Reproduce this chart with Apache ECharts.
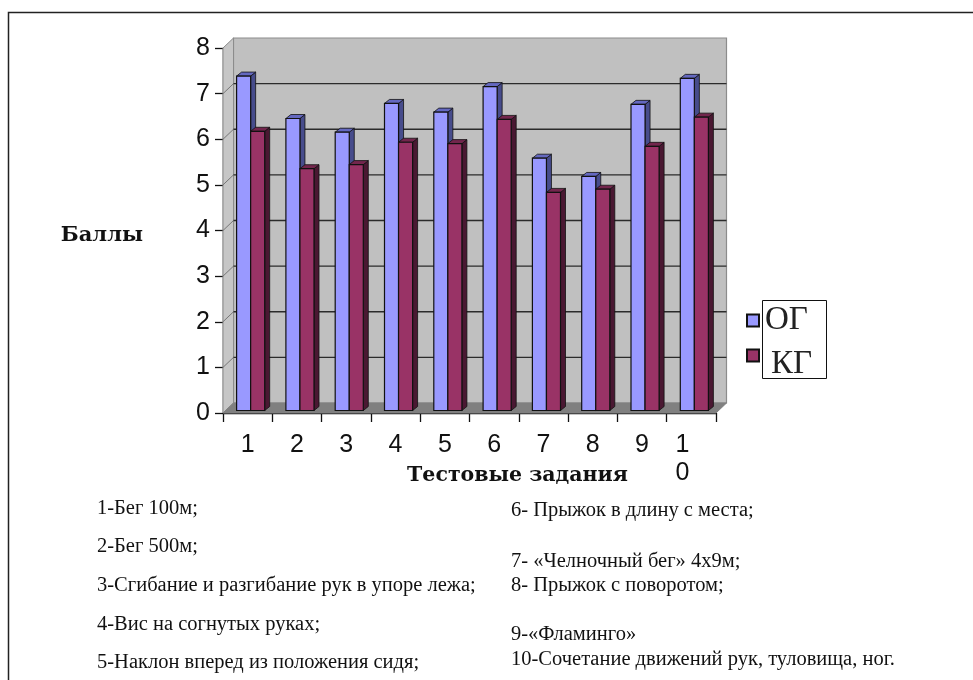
<!DOCTYPE html>
<html>
<head>
<meta charset="utf-8">
<style>html,body{margin:0;padding:0;background:#fff}#chart{width:973px;height:680px}</style>
<script src="https://cdn.jsdelivr.net/npm/echarts@6/dist/echarts.min.js"></script>
</head>
<body>
<div id="chart"></div>
<script>
// Test scores per task, main group vs control group
const categories = ['1', '2', '3', '4', '5', '6', '7', '8', '9', '10'];
const groupOG = [7.33, 6.40, 6.10, 6.73, 6.54, 7.10, 5.53, 5.13, 6.71, 7.28];
const groupKG = [6.12, 5.30, 5.39, 5.88, 5.85, 6.38, 4.78, 4.85, 5.79, 6.43];
const gridTicks = [1, 2, 3, 4, 5, 6, 7];
const notesLeft = ['1-Бег 100м;', '2-Бег 500м;', '3-Сгибание и разгибание рук в упоре лежа;', '4-Вис на согнутых руках;', '5-Наклон вперед из положения сидя;'];
const notesRight = ['6- Прыжок в длину с места;', '7- «Челночный бег» 4х9м;', '8- Прыжок с поворотом;', '9-«Фламинго»', '10-Сочетание движений рук, туловища, ног.'];

const notesLeftY = [507, 545, 584, 623, 661];
const notesRightY = [509, 560, 584, 633, 658];

// Pseudo-3D depth of the plot box and of each bar, in pixels
const WALL_DX = 10.5, WALL_DY = 10;
const BAR_DX = 5, BAR_DY = 4;
const BAR_SHIFT_Y = 2.5;

const SERIF = '"Liberation Serif", serif';
const SANS = '"Liberation Sans", sans-serif';

function poly(points, fill, stroke, lineWidth) {
  return {
    type: 'polygon',
    shape: { points },
    style: { fill, stroke: stroke || 'none', lineWidth: lineWidth || 0 }
  };
}

// Back wall, side wall and floor of the box
function renderWalls(params, api) {
  const cs = params.coordSys;
  const l = cs.x, r = cs.x + cs.width, t = cs.y, b = cs.y + cs.height;
  const d = WALL_DX, e = WALL_DY;
  return {
    type: 'group',
    children: [
      poly([[l + d, t - e], [r + d, t - e], [r + d, b - e], [l + d, b - e]], '#c0c0c0', '#8c8c8c', 1.2),
      poly([[l, t], [l + d, t - e], [l + d, b - e], [l, b]], '#c6c6c6', '#8c8c8c', 1),
      poly([[l, b], [l + d, b - e], [r + d, b - e], [r, b]], '#808080', '#808080', 1)
    ]
  };
}

// Gridlines run along the back wall, with a fainter return on the side wall
function renderGrid(params, api) {
  const cs = params.coordSys;
  const y = api.coord([0, api.value(0)])[1];
  const l = cs.x, r = cs.x + cs.width;
  return {
    type: 'group',
    children: [
      {
        type: 'line',
        shape: { x1: l, y1: y, x2: l + WALL_DX, y2: y - WALL_DY },
        style: { stroke: '#777', lineWidth: 1 }
      },
      {
        type: 'line',
        shape: { x1: l + WALL_DX, y1: y - WALL_DY, x2: r + WALL_DX, y2: y - WALL_DY },
        style: { stroke: '#2b2b2b', lineWidth: 1.3 }
      }
    ]
  };
}

// Extruded bar: front face, side face and top face
function barRenderer(seriesIndex, front, side, top) {
  return function (params, api) {
    const band = api.size([1, 0])[0];
    const w = band * 0.285;
    const c = api.coord([api.value(0), api.value(1)]);
    const base = api.coord([api.value(0), 0])[1] - BAR_SHIFT_Y;
    const x0 = c[0] - w + seriesIndex * w + 3;
    const x1 = x0 + w;
    const yt = c[1] - BAR_SHIFT_Y;
    const dx = BAR_DX, dy = BAR_DY;
    return {
      type: 'group',
      children: [
        poly([[x1, yt], [x1 + dx, yt - dy], [x1 + dx, base - dy], [x1, base]], side, '#111', 0.8),
        poly([[x0, yt], [x0 + dx, yt - dy], [x1 + dx, yt - dy], [x1, yt]], top, '#111', 0.8),
        poly([[x0, yt], [x1, yt], [x1, base], [x0, base]], front, '#111', 1.2)
      ]
    };
  };
}

const chart = echarts.init(document.getElementById('chart'), null, { renderer: 'canvas' });

const noteText = (text, x, y) => ({
  type: 'text', left: x, top: y - 9, z: 20,
  style: { text, font: '20.5px ' + SERIF, fill: '#111' }
});

chart.setOption({
  animation: false,
  backgroundColor: '#fff',
  grid: { left: 223, top: 48, width: 493, height: 365, containLabel: false },
  xAxis: {
    type: 'category',
    data: categories,
    boundaryGap: true,
    axisLine: { lineStyle: { color: '#111', width: 1.4 } },
    axisTick: { show: true, alignWithLabel: false, length: 9, lineStyle: { color: '#111', width: 1.3 } },
    axisLabel: {
      interval: 0, margin: 18, color: '#111', fontFamily: SANS, fontSize: 25,
      lineHeight: 28,
      formatter: v => v.length > 1 ? '{w|' + v.split('').join('\n') + '}' : v,
      rich: { w: { fontFamily: SANS, fontSize: 25, lineHeight: 28, padding: [0, 18, 0, 0], color: '#111' } }
    },
    name: 'Тестовые задания',
    nameLocation: 'middle',
    nameGap: 52,
    nameMoveOverlap: false,
    nameTextStyle: { fontFamily: '"DejaVu Serif", serif', fontWeight: 'bold', fontSize: 20.5, color: '#111', padding: [0, 0, 0, 96] }
  },
  yAxis: {
    type: 'value', min: 0, max: 8, interval: 1,
    splitLine: { show: false },
    axisLine: { show: true, lineStyle: { color: '#111', width: 1.4 } },
    axisTick: { show: true, length: 8, lineStyle: { color: '#111', width: 1.3 } },
    axisLabel: { margin: 13, color: '#111', fontFamily: SANS, fontSize: 25 },
    name: 'Баллы',
    nameLocation: 'middle',
    nameRotate: 0,
    nameGap: 80,
    nameMoveOverlap: false,
    nameTextStyle: { fontFamily: '"DejaVu Serif", serif', fontWeight: 'bold', fontSize: 21, color: '#111', verticalAlign: 'top', lineHeight: 11 }
  },
  legend: {
    orient: 'vertical',
    left: 746, top: 304,
    itemWidth: 12, itemHeight: 12, itemGap: 11, padding: 0,
    icon: 'rect',
    data: ['ОГ', 'КГ'],
    formatter: n => n === 'КГ' ? '{k|КГ}' : '{o|ОГ}',
    textStyle: {
      rich: {
        o: { fontFamily: SERIF, fontSize: 33, color: '#222', padding: [0, 0, 0, 1] },
        k: { fontFamily: SERIF, fontSize: 33, color: '#222', padding: [18, 0, 0, 7] }
      }
    }
  },
  graphic: [
    { type: 'rect', left: 6, top: 10, z: -1, shape: { width: 980, height: 690 }, style: { fill: 'none', stroke: '#222', lineWidth: 1.5 } },
    { type: 'rect', left: 762, top: 300, z: -1, shape: { width: 64, height: 78 }, style: { fill: '#fff', stroke: '#111', lineWidth: 1 } },
    ...notesLeft.map((t, i) => noteText(t, 97, notesLeftY[i])),
    ...notesRight.map((t, i) => noteText(t, 511, notesRightY[i]))
  ],
  series: [
    { type: 'custom', name: 'walls', silent: true, z: 1, renderItem: renderWalls, data: [0], encode: { x: 0 } },
    { type: 'custom', name: 'grid', silent: true, z: 2, renderItem: renderGrid, data: gridTicks.map(v => [v]), encode: { y: 0 } },
    {
      type: 'custom', name: 'ОГ', z: 3,
      itemStyle: { color: '#9999ff', borderColor: '#111', borderWidth: 1 },
      renderItem: barRenderer(0, '#9999ff', '#474c8c', '#6468c0'),
      data: categories.map((c, i) => [i, groupOG[i]]),
      encode: { x: 0, y: 1 }
    },
    {
      type: 'custom', name: 'КГ', z: 4,
      itemStyle: { color: '#993366', borderColor: '#111', borderWidth: 1 },
      renderItem: barRenderer(1, '#993366', '#4a1832', '#73264d'),
      data: categories.map((c, i) => [i, groupKG[i]]),
      encode: { x: 0, y: 1 }
    }
  ]
});
</script>
</body>
</html>
